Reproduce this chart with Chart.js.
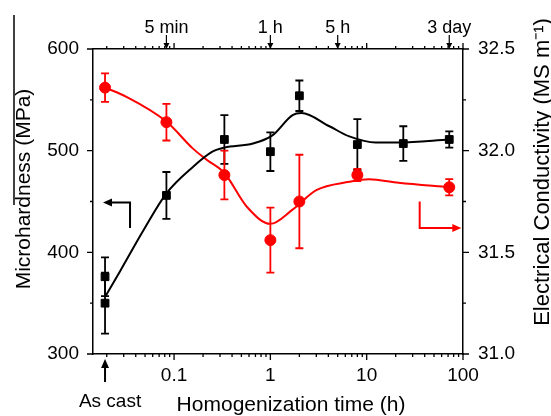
<!DOCTYPE html>
<html>
<head>
<meta charset="utf-8">
<script src="https://cdn.jsdelivr.net/npm/chart.js@4.4.0/dist/chart.umd.min.js"></script>
<style>
  html, body { margin: 0; padding: 0; background: #fff; }
  canvas { display: block; }
</style>
</head>
<body>
<canvas id="chart" width="551" height="416"></canvas>
<script>
// homogenization time (h); the as cast state is plotted at 0.0192 h
const hardTime = [0.0192, 0.0192, 0.0833, 0.333, 1, 2, 8, 24, 72];
const hardValue = [376, 350, 456, 511, 499, 554, 506, 507, 511];
const hardError = [19, 30, 23, 24, 19, 15, 25, 17, 8];

const condTime = [0.0192, 0.0833, 0.333, 1, 2, 8, 72];
const condValue = [32.31, 32.14, 31.88, 31.56, 31.75, 31.88, 31.82];
const condError = [0.07, 0.09, 0.12, 0.16, 0.23, 0.03, 0.04];

// smooth guide lines
const hardCurveTime = [0.0192, 0.0277, 0.0483, 0.0833, 0.157, 0.25, 0.333, 0.66, 1.05, 1.7, 2.1, 4.1, 6.6, 12.4, 21.5, 72];
const hardCurveValue = [356, 382, 422, 458, 484, 499, 503, 507, 515, 535, 537, 524, 514, 508, 508, 511];
const condCurveTime = [0.0192, 0.032, 0.0833, 0.157, 0.22, 0.333, 0.57, 1.0, 1.7, 3.0, 6.6, 10.5, 21.5, 72];
const condCurveValue = [32.31, 32.265, 32.143, 32.01, 31.954, 31.89, 31.724, 31.64, 31.71, 31.806, 31.847, 31.86, 31.842, 31.82];

// ticks
const xMajor = [0.1, 1, 10, 100];
const xMajorLabels = ['0.1', '1', '10', '100'];
const xMinor = [0.02, 0.03, 0.04, 0.05, 0.06, 0.07, 0.08, 0.09,
  0.2, 0.3, 0.4, 0.5, 0.6, 0.7, 0.8, 0.9,
  2, 3, 4, 5, 6, 7, 8, 9,
  20, 30, 40, 50, 60, 70, 80, 90];
const yMajor = [300, 400, 500, 600];
const yMinor = [350, 450, 550];
const y2Major = [31.0, 31.5, 32.0, 32.5];
const y2Labels = ['31.0', '31.5', '32.0', '32.5'];
const y2Minor = [31.25, 31.75, 32.25];

// marks on the top axis
const topMarks = [0.0833, 1, 5, 72];
const topMarkLabels = ['5 min', '1 h', '5 h', '3 day'];

const FONT = "'Liberation Sans', Arial, sans-serif";
const RED = '#ff0000';

function pts(xs, ys) {
  return xs.map((x, i) => ({ x: x, y: ys[i] }));
}

function head(ctx, x, y, dir, len, half) {
  ctx.beginPath();
  ctx.moveTo(x, y);
  if (dir === 'left') { ctx.lineTo(x + len, y - half); ctx.lineTo(x + len, y + half); }
  if (dir === 'right') { ctx.lineTo(x - len, y - half); ctx.lineTo(x - len, y + half); }
  if (dir === 'up') { ctx.lineTo(x - half, y + len); ctx.lineTo(x + half, y + len); }
  if (dir === 'down') { ctx.lineTo(x - half, y - len); ctx.lineTo(x + half, y - len); }
  ctx.closePath();
  ctx.fill();
}

function errorBars(ctx, xs, ys, es, sx, sy, color) {
  ctx.save();
  ctx.strokeStyle = color;
  ctx.lineWidth = 1.8;
  xs.forEach((t, i) => {
    const px = sx.getPixelForValue(t);
    const top = sy.getPixelForValue(ys[i] + es[i]);
    const bot = sy.getPixelForValue(ys[i] - es[i]);
    ctx.beginPath();
    ctx.moveTo(px, top); ctx.lineTo(px, bot);
    ctx.moveTo(px - 4, top); ctx.lineTo(px + 4, top);
    ctx.moveTo(px - 4, bot); ctx.lineTo(px + 4, bot);
    ctx.stroke();
  });
  ctx.restore();
}

function tickMarks(ctx, scale, values, len, side, area) {
  ctx.beginPath();
  values.forEach(v => {
    const p = scale.getPixelForValue(v);
    if (side === 'bottom') { ctx.moveTo(p, area.bottom); ctx.lineTo(p, area.bottom + len); }
    if (side === 'top') { ctx.moveTo(p, area.top); ctx.lineTo(p, area.top - len); }
    if (side === 'left') { ctx.moveTo(area.left, p); ctx.lineTo(area.left - len, p); }
    if (side === 'right') { ctx.moveTo(area.right, p); ctx.lineTo(area.right + len, p); }
  });
  ctx.stroke();
}

const extras = {
  id: 'extras',
  beforeDatasetsDraw(chart) {
    const { ctx, scales } = chart;
    errorBars(ctx, hardTime, hardValue, hardError, scales.x, scales.y, '#000');
    errorBars(ctx, condTime, condValue, condError, scales.x, scales.y2, RED);
  },
  afterDraw(chart) {
    const { ctx, scales, chartArea: a } = chart;
    const sx = scales.x, sy = scales.y, sy2 = scales.y2;
    ctx.save();
    ctx.strokeStyle = '#000';
    ctx.fillStyle = '#000';
    ctx.lineWidth = 1.3;
    tickMarks(ctx, sx, xMajor, 6, 'bottom', a);
    tickMarks(ctx, sx, xMinor, 3, 'bottom', a);
    tickMarks(ctx, sx, xMajor, 6, 'top', a);
    tickMarks(ctx, sx, xMinor, 3, 'top', a);
    tickMarks(ctx, sy, yMajor, 6, 'left', a);
    tickMarks(ctx, sy, yMinor, 3, 'left', a);
    tickMarks(ctx, sy2, y2Major, 6, 'right', a);
    tickMarks(ctx, sy2, y2Minor, 3, 'right', a);

    // stray frame line at the top left of the picture
    ctx.lineWidth = 1.5;
    ctx.beginPath(); ctx.moveTo(14, 15); ctx.lineTo(14, 205); ctx.stroke();

    // top axis marks
    ctx.font = '18px ' + FONT;
    ctx.textAlign = 'center';
    ctx.textBaseline = 'alphabetic';
    ctx.lineWidth = 1.2;
    topMarks.forEach((t, i) => {
      const px = sx.getPixelForValue(t);
      ctx.beginPath(); ctx.moveTo(px, a.top - 14); ctx.lineTo(px, a.top - 4); ctx.stroke();
      head(ctx, px, a.top, 'down', 6, 3);
      ctx.fillText(topMarkLabels[i], px, a.top - 16);
    });

    // as cast arrow
    const ac = sx.getPixelForValue(hardTime[0]);
    ctx.lineWidth = 2;
    ctx.beginPath(); ctx.moveTo(ac, a.bottom + 28); ctx.lineTo(ac, a.bottom + 10); ctx.stroke();
    head(ctx, ac, a.bottom + 5, 'up', 9, 4);
    ctx.font = '19px ' + FONT;
    ctx.fillText('As cast', ac + 5, 407);

    // axis pointers
    let cx = sx.getPixelForValue(0.0349), tx = sx.getPixelForValue(0.0183);
    let yt = sy.getPixelForValue(449), yb = sy.getPixelForValue(424);
    ctx.beginPath(); ctx.moveTo(cx, yb); ctx.lineTo(cx, yt); ctx.lineTo(tx + 6, yt); ctx.stroke();
    head(ctx, tx, yt, 'left', 9, 4);

    ctx.strokeStyle = RED; ctx.fillStyle = RED;
    cx = sx.getPixelForValue(35.5); tx = sx.getPixelForValue(96);
    yt = sy2.getPixelForValue(31.75); yb = sy2.getPixelForValue(31.62);
    ctx.beginPath(); ctx.moveTo(cx, yt); ctx.lineTo(cx, yb); ctx.lineTo(tx - 6, yb); ctx.stroke();
    head(ctx, tx, yb, 'right', 9, 4);

    // axis titles
    ctx.fillStyle = '#000';
    ctx.font = '21px ' + FONT;
    ctx.textAlign = 'center';
    ctx.fillText('Homogenization time (h)', 291, 411);
    ctx.save();
    ctx.translate(30, 189); ctx.rotate(-Math.PI / 2);
    ctx.fillText('Microhardness (MPa)', 0, 0);
    ctx.restore();
    ctx.save();
    ctx.font = '22px ' + FONT;
    ctx.translate(549, 172); ctx.rotate(-Math.PI / 2);
    ctx.fillText('Electrical Conductivity (MS m\u207B\u00B9)', 0, 0);
    ctx.restore();
    ctx.restore();
  }
};

const tickFont = { family: FONT, size: 19 };
const axisBorder = { display: true, color: '#000', width: 1.5 };
const noGrid = { display: false, drawTicks: false };

new Chart(document.getElementById('chart'), {
  type: 'line',
  data: {
    datasets: [
      { data: pts(hardCurveTime, hardCurveValue), yAxisID: 'y', borderColor: '#000', borderWidth: 2,
        pointRadius: 0, cubicInterpolationMode: 'monotone', fill: false },
      { data: pts(condCurveTime, condCurveValue), yAxisID: 'y2', borderColor: RED, borderWidth: 2,
        pointRadius: 0, cubicInterpolationMode: 'monotone', fill: false },
      { data: pts(hardTime, hardValue), yAxisID: 'y', showLine: false, pointStyle: 'rect',
        pointRadius: 5.5, backgroundColor: '#000', borderColor: '#000', borderWidth: 1 },
      { data: pts(condTime, condValue), yAxisID: 'y2', showLine: false, pointStyle: 'circle',
        pointRadius: 5.5, backgroundColor: RED, borderColor: RED, borderWidth: 1 }
    ]
  },
  options: {
    responsive: false,
    animation: false,
    devicePixelRatio: 1,
    layout: { padding: 0 },
    plugins: { legend: { display: false }, tooltip: { enabled: false } },
    scales: {
      x: {
        type: 'logarithmic', position: 'bottom', min: 0.0144, max: 100,
        grid: noGrid, border: axisBorder,
        ticks: { font: tickFont, color: '#000', padding: 10, maxRotation: 0, autoSkip: false,
          callback: v => xMajorLabels[xMajor.indexOf(v)] ?? '' },
        afterBuildTicks: s => { s.ticks = xMajor.map(v => ({ value: v })); },
        afterFit: s => { s.height = 62; }
      },
      x2: {
        type: 'logarithmic', position: 'top', min: 0.0144, max: 100,
        grid: noGrid, border: axisBorder, ticks: { display: false },
        afterBuildTicks: s => { s.ticks = xMajor.map(v => ({ value: v })); },
        afterFit: s => { s.height = 49; }
      },
      y: {
        type: 'linear', position: 'left', min: 300, max: 600,
        grid: noGrid, border: axisBorder,
        ticks: { font: tickFont, color: '#000', padding: 14 },
        afterBuildTicks: s => { s.ticks = yMajor.map(v => ({ value: v })); },
        afterFit: s => { s.width = 93; }
      },
      y2: {
        type: 'linear', position: 'right', min: 31.0, max: 32.5,
        grid: noGrid, border: axisBorder,
        ticks: { font: tickFont, color: '#000', padding: 15,
          callback: v => y2Labels[y2Major.indexOf(v)] ?? '' },
        afterBuildTicks: s => { s.ticks = y2Major.map(v => ({ value: v })); },
        afterFit: s => { s.width = 88; }
      }
    }
  },
  plugins: [extras]
});
</script>
</body>
</html>
